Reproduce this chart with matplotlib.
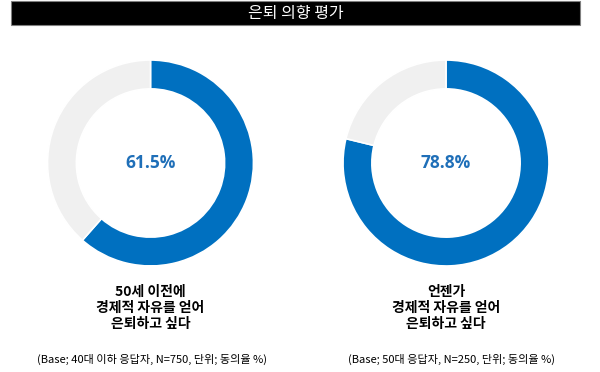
import matplotlib
matplotlib.use("Agg")
import matplotlib.pyplot as plt
from matplotlib.patches import Rectangle

plt.rcParams['font.family'] = ['Noto Sans CJK KR', 'DejaVu Sans']

title = "은퇴 의향 평가"
values = [61.5, 78.8]
pct_labels = ["61.5%", "78.8%"]
labels = ["50세 이전에\n경제적 자유를 얻어\n은퇴하고 싶다",
          "언젠가\n경제적 자유를 얻어\n은퇴하고 싶다"]
bases = ["(Base; 40대 이하 응답자, N=750, 단위; 동의율 %)",
         "(Base; 50대 응답자, N=250, 단위; 동의율 %)"]

W, H = 600, 372
fig = plt.figure(figsize=(W / 100, H / 100), dpi=100)
fig.patch.set_facecolor('white')

def fx(x):
    return x / W

def fy(y):
    return 1 - y / H

# Title bar
fig.patches.append(Rectangle((fx(11), fy(25)), fx(580) - fx(11), fy(1) - fy(25),
                             transform=fig.transFigure, facecolor='black',
                             edgecolor='#7f7f7f', linewidth=0.8))
fig.text(fx(295.5), fy(13.5), title, color='white', fontsize=11.5,
         fontweight='medium', ha='center', va='center')

blue = '#0070C0'
grey = '#F0F0F0'
centers = [150.5, 446]
cy = 163
R = 104
base_x = [152, 451]

for i, v in enumerate(values):
    cx = centers[i]
    ax = fig.add_axes([fx(cx - R), fy(cy + R), 2 * R / W, 2 * R / H])
    ax.pie([v, 100 - v], colors=[blue, grey], startangle=90, counterclock=False,
           radius=1, wedgeprops=dict(width=0.28, edgecolor='white', linewidth=1.2))
    ax.set_xlim(-1.01, 1.01)
    ax.set_ylim(-1.01, 1.01)
    ax.set_axis_off()
    ax.text(0, 0, pct_labels[i], color='#1F6FB8', fontsize=12.5, fontweight='bold',
            ha='center', va='center', family=['Open Sans', 'DejaVu Sans'])
    fig.text(fx(cx), fy(308), labels[i], ha='center', va='center', fontsize=10,
             fontweight='bold', linespacing=1.2, color='black')
    fig.text(fx(base_x[i]), fy(359), bases[i], ha='center', va='center',
             fontsize=8, color='black')

fig.savefig('out.png', dpi=100, facecolor='white')
